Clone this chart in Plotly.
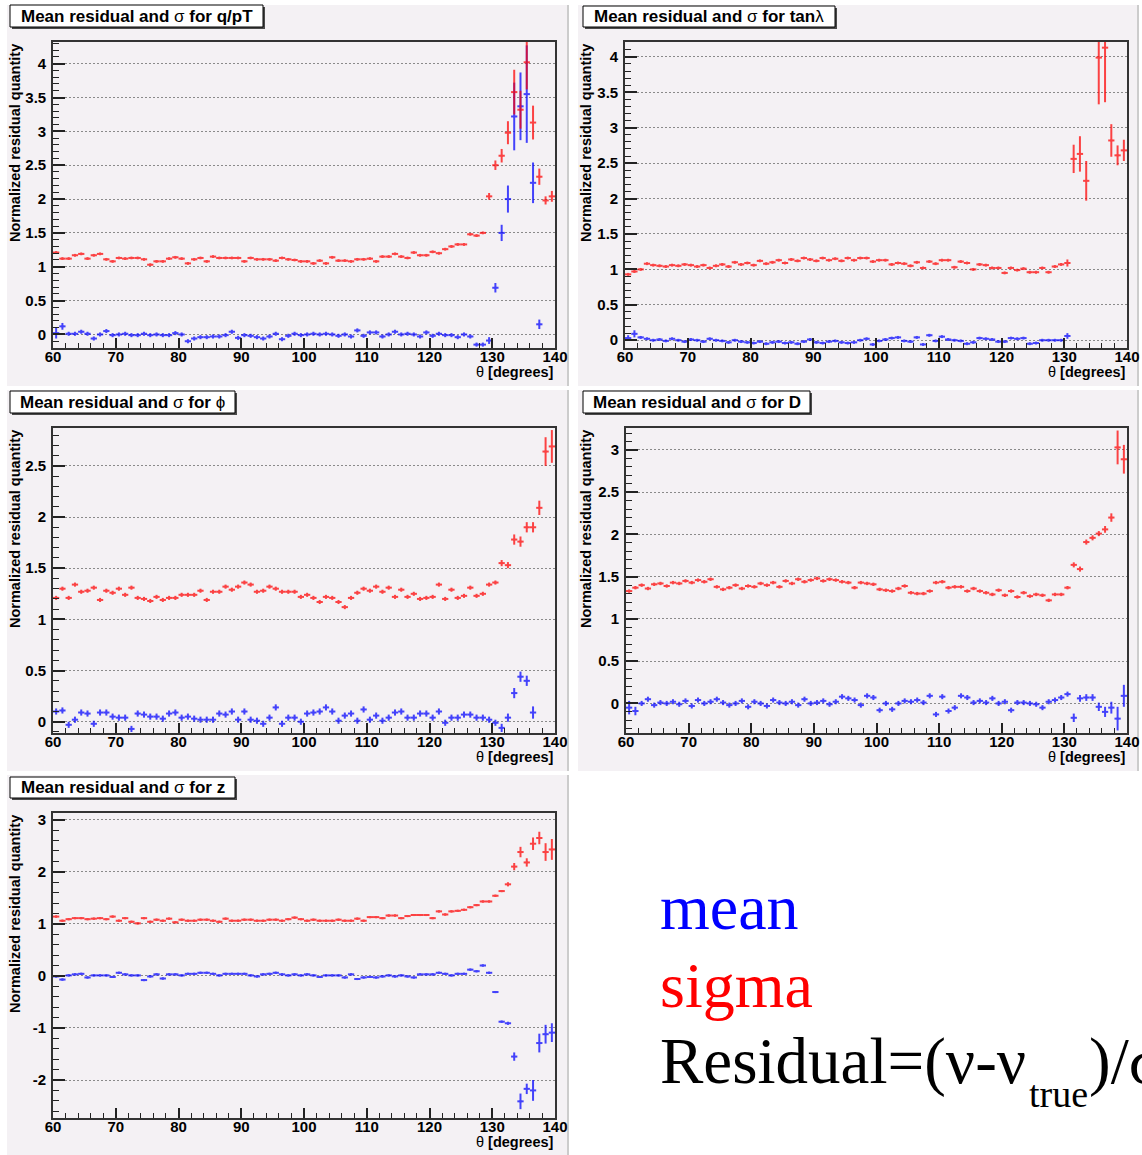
import plotly.graph_objects as go

# ---------------------------------------------------------------- data
THETA = [60.5 + i for i in range(80)]          # 1-degree bin centres
THETA_TICKS = [60, 70, 80, 90, 100, 110, 120, 130, 140]

QPT_SIGMA = [1.21, 1.12, 1.12, 1.17, 1.19, 1.12, 1.17, 1.19, 1.11, 1.08,
             1.13, 1.12, 1.13, 1.13, 1.11, 1.03, 1.08, 1.08, 1.12, 1.14,
             1.12, 1.05, 1.11, 1.13, 1.08, 1.15, 1.13, 1.13, 1.13, 1.13,
             1.08, 1.13, 1.11, 1.11, 1.11, 1.09, 1.13, 1.11, 1.10, 1.08,
             1.08, 1.05, 1.09, 1.05, 1.14, 1.09, 1.09, 1.08, 1.11, 1.11,
             1.12, 1.08, 1.15, 1.15, 1.19, 1.15, 1.13, 1.21, 1.17, 1.17,
             1.22, 1.20, 1.26, 1.30, 1.33, 1.33, 1.48, 1.46, 1.50, 2.04,
             2.50, 2.64, 2.98, 3.58, 3.32, 4.02, 3.13, 2.33, 1.98, 2.04]
QPT_SIGMA_ERR = [0.02] * 69 + [0.05, 0.07, 0.10, 0.17, 0.33, 0.28, 0.40, 0.25, 0.12, 0.06, 0.08]
QPT_MEAN = [0.02, 0.12, 0.01, 0.01, 0.04, 0.01, -0.06, 0.00, 0.05, -0.01,
            0.00, 0.01, -0.01, -0.01, 0.01, -0.01, 0.00, -0.01, -0.01, 0.02,
            0.00, -0.10, -0.06, -0.04, -0.04, -0.03, -0.03, -0.01, 0.04, -0.05,
            -0.01, -0.02, -0.04, -0.06, -0.03, 0.01, -0.07, -0.02, 0.01, -0.01,
            0.00, 0.01, 0.00, 0.01, 0.00, -0.02, 0.00, -0.03, 0.06, -0.02,
            0.03, 0.03, -0.03, 0.00, 0.04, 0.00, 0.01, 0.00, -0.03, 0.03,
            -0.02, 0.01, -0.01, -0.01, -0.04, 0.00, -0.03, -0.15, -0.15, -0.09,
            0.69, 1.50, 2.00, 3.22, 3.37, 3.55, 2.24, 0.15, None, None]
QPT_MEAN_ERR = [0.08, 0.05] + [0.03] * 67 + [0.05, 0.07, 0.12, 0.20, 0.50, 0.50, 0.72, 0.30, 0.07, 0, 0]

TANL_SIGMA = [0.93, 0.97, 1.00, 1.08, 1.06, 1.05, 1.04, 1.06, 1.05, 1.07,
              1.06, 1.04, 1.06, 1.02, 1.05, 1.07, 1.04, 1.10, 1.07, 1.09,
              1.06, 1.12, 1.08, 1.10, 1.13, 1.09, 1.14, 1.12, 1.16, 1.14,
              1.12, 1.16, 1.13, 1.15, 1.12, 1.16, 1.13, 1.16, 1.16, 1.11,
              1.13, 1.13, 1.07, 1.09, 1.08, 1.05, 1.10, 1.02, 1.11, 1.08,
              1.13, 1.13, 1.03, 1.11, 1.09, 1.00, 1.07, 1.06, 1.02, 1.02,
              0.95, 1.02, 0.99, 1.01, 0.96, 0.96, 1.02, 0.96, 1.04, 1.07,
              1.09, 2.56, 2.63, 2.25, None, 3.99, 4.13, 2.82, 2.61, 2.68]
TANL_SIGMA_ERR = [0.02] * 70 + [0.05, 0.20, 0.25, 0.28, 0, 0.66, 0.77, 0.23, 0.14, 0.15]
TANL_MEAN = [0.03, 0.09, 0.04, 0.02, 0.00, 0.01, -0.01, 0.02, 0.00, -0.02,
             0.01, 0.00, -0.02, 0.02, 0.00, -0.01, -0.03, 0.00, -0.02, -0.03,
             -0.04, -0.02, -0.05, -0.03, -0.02, -0.04, -0.03, -0.05, -0.02, 0.01,
             -0.03, -0.04, -0.02, -0.01, -0.03, -0.04, -0.03, 0.00, 0.02, -0.06,
             -0.01, 0.01, 0.03, 0.04, -0.01, -0.02, 0.04, -0.06, 0.07, -0.01,
             0.05, 0.01, 0.00, -0.01, -0.05, -0.03, 0.03, 0.02, 0.01, -0.02,
             -0.02, 0.03, 0.02, 0.03, -0.05, -0.04, 0.00, 0.00, 0.00, 0.00,
             0.06, None, None, None, None, None, None, None, None, None]
TANL_MEAN_ERR = [0.04, 0.05] + [0.02] * 68 + [0.04] + [0] * 9

PHI_SIGMA = [1.21, 1.30, 1.21, 1.34, 1.27, 1.28, 1.31, 1.19, 1.28, 1.26,
             1.30, 1.24, 1.31, 1.21, 1.20, 1.18, 1.22, 1.19, 1.21, 1.21,
             1.24, 1.24, 1.24, 1.28, 1.19, 1.27, 1.27, 1.32, 1.29, 1.32,
             1.36, 1.34, 1.27, 1.28, 1.32, 1.30, 1.27, 1.27, 1.27, 1.22,
             1.24, 1.21, 1.17, 1.22, 1.21, 1.17, 1.12, 1.21, 1.26, 1.30,
             1.28, 1.32, 1.27, 1.31, 1.22, 1.29, 1.22, 1.25, 1.20, 1.21,
             1.22, 1.34, 1.20, 1.29, 1.21, 1.23, 1.31, 1.23, 1.25, 1.34,
             1.36, 1.55, 1.53, 1.78, 1.76, 1.90, 1.90, 2.09, 2.64, 2.69]
PHI_SIGMA_ERR = [0.02] * 71 + [0.03, 0.03, 0.05, 0.05, 0.05, 0.05, 0.07, 0.14, 0.16]
PHI_MEAN = [0.10, 0.11, -0.03, 0.02, 0.09, 0.08, -0.02, 0.09, 0.09, 0.05,
            0.04, 0.04, -0.07, 0.08, 0.07, 0.05, 0.05, 0.03, 0.08, 0.09,
            0.04, 0.05, 0.03, 0.02, 0.02, 0.02, 0.08, 0.07, 0.10, 0.02,
            0.10, 0.02, 0.01, -0.02, 0.04, 0.14, -0.02, 0.04, 0.04, 0.00,
            0.08, 0.09, 0.10, 0.14, 0.10, 0.01, 0.06, 0.08, 0.01, 0.12,
            0.02, 0.06, 0.01, 0.04, 0.09, 0.10, 0.04, 0.04, 0.08, 0.08,
            0.04, 0.10, -0.01, 0.04, 0.04, 0.07, 0.07, 0.04, 0.04, 0.02,
            -0.01, -0.06, 0.04, 0.28, 0.44, 0.40, 0.09, None, None, None]
PHI_MEAN_ERR = [0.03] * 71 + [0.04, 0.04, 0.05, 0.05, 0.05, 0.06, 0, 0, 0]

D_SIGMA = [1.33, 1.37, 1.40, 1.36, 1.41, 1.42, 1.39, 1.43, 1.42, 1.45,
           1.43, 1.46, 1.44, 1.47, 1.38, 1.35, 1.37, 1.40, 1.36, 1.39,
           1.38, 1.42, 1.40, 1.43, 1.38, 1.45, 1.42, 1.47, 1.44, 1.46,
           1.48, 1.45, 1.47, 1.46, 1.44, 1.43, 1.37, 1.43, 1.42, 1.41,
           1.35, 1.34, 1.33, 1.36, 1.39, 1.31, 1.30, 1.30, 1.33, 1.43,
           1.44, 1.37, 1.38, 1.38, 1.33, 1.36, 1.33, 1.31, 1.29, 1.34,
           1.28, 1.33, 1.26, 1.31, 1.27, 1.29, 1.28, 1.22, 1.29, 1.29,
           1.37, 1.64, 1.59, 1.91, 1.96, 2.01, 2.06, 2.20, 3.03, 2.89]
D_SIGMA_ERR = [0.02] * 71 + [0.03, 0.03, 0.03, 0.03, 0.03, 0.04, 0.05, 0.20, 0.17]
D_MEAN = [-0.05, -0.09, 0.00, 0.05, -0.02, 0.01, 0.00, 0.02, -0.01, 0.03,
          -0.03, 0.04, 0.00, 0.02, 0.05, 0.01, -0.02, 0.00, 0.03, -0.04,
          0.02, 0.00, -0.03, 0.04, 0.01, 0.00, 0.02, -0.02, 0.05, 0.00,
          0.01, 0.03, -0.01, 0.02, 0.08, 0.06, 0.04, -0.02, 0.09, 0.07,
          -0.08, 0.00, -0.07, 0.00, 0.03, 0.02, 0.04, 0.01, 0.09, -0.13,
          0.08, -0.09, -0.05, 0.09, 0.07, 0.01, 0.03, 0.01, 0.06, 0.00,
          0.02, -0.08, 0.01, 0.01, 0.00, -0.01, -0.05, 0.02, 0.04, 0.07,
          0.11, -0.17, 0.06, 0.07, 0.07, -0.04, -0.10, -0.05, -0.18, 0.09]
D_MEAN_ERR = [0.08, 0.05] + [0.03] * 69 + [0.05, 0.04, 0.04, 0.04, 0.05, 0.06, 0.07, 0.14, 0.13]

Z_SIGMA = [1.14, 1.06, 1.09, 1.11, 1.11, 1.09, 1.10, 1.11, 1.09, 1.14,
           1.06, 1.11, 1.04, 1.01, 1.11, 1.04, 1.08, 1.06, 1.10, 1.03,
           1.08, 1.06, 1.06, 1.08, 1.08, 1.06, 1.04, 1.10, 1.06, 1.06,
           1.08, 1.08, 1.06, 1.06, 1.08, 1.08, 1.06, 1.09, 1.12, 1.09,
           1.06, 1.08, 1.06, 1.06, 1.06, 1.08, 1.06, 1.06, 1.10, 1.06,
           1.13, 1.13, 1.11, 1.16, 1.16, 1.11, 1.15, 1.17, 1.17, 1.17,
           1.11, 1.24, 1.18, 1.24, 1.25, 1.27, 1.32, 1.36, 1.43, 1.43,
           1.54, 1.63, 1.76, 2.10, 2.38, 2.18, 2.54, 2.65, 2.38, 2.43]
Z_SIGMA_ERR = [0.02] * 72 + [0.04, 0.07, 0.10, 0.08, 0.12, 0.12, 0.17, 0.20]
Z_MEAN = [-0.01, -0.07, 0.01, 0.03, 0.04, -0.03, 0.01, 0.01, 0.01, -0.02,
          0.06, 0.03, 0.01, 0.01, -0.08, -0.01, 0.03, -0.05, 0.03, 0.03,
          0.01, 0.04, 0.04, 0.06, 0.06, 0.04, 0.01, 0.04, 0.04, 0.04,
          0.04, 0.01, -0.01, 0.03, 0.04, 0.06, 0.03, 0.01, 0.03, 0.01,
          0.03, 0.01, -0.02, 0.01, 0.01, 0.01, -0.03, 0.03, -0.06, -0.03,
          -0.02, -0.03, -0.01, 0.01, -0.01, 0.01, -0.01, -0.03, 0.03, 0.03,
          0.03, 0.06, 0.04, 0.01, 0.04, 0.04, 0.12, 0.09, 0.20, 0.06,
          -0.31, -0.88, -0.91, -1.55, -2.41, -2.17, -2.20, -1.29, -1.12, -1.09]
Z_MEAN_ERR = [0.02] * 72 + [0.03, 0.08, 0.15, 0.10, 0.20, 0.18, 0.18, 0.18]

TITLES = ["<b>Mean residual and </b>σ<b> for q/pT</b>",
          "<b>Mean residual and </b>σ<b> for tan</b>λ",
          "<b>Mean residual and </b>σ<b> for </b>ϕ",
          "<b>Mean residual and </b>σ<b> for D</b>",
          "<b>Mean residual and </b>σ<b> for z</b>"]
Y_TICKS = [[0, 0.5, 1, 1.5, 2, 2.5, 3, 3.5, 4],
           [0, 0.5, 1, 1.5, 2, 2.5, 3, 3.5, 4],
           [0, 0.5, 1, 1.5, 2, 2.5],
           [0, 0.5, 1, 1.5, 2, 2.5, 3],
           [-2, -1, 0, 1, 2, 3]]
Y_TICK_TEXT = [["0", "0.5", "1", "1.5", "2", "2.5", "3", "3.5", "4"],
               ["0", "0.5", "1", "1.5", "2", "2.5", "3", "3.5", "4"],
               ["0", "0.5", "1", "1.5", "2", "2.5"],
               ["0", "0.5", "1", "1.5", "2", "2.5", "3"],
               ["-2", "-1", "0", "1", "2", "3"]]
Y_RANGES = [[-0.2, 4.32], [-0.11, 4.21], [-0.11, 2.87], [-0.35, 3.26], [-2.73, 3.13]]
Y_MINOR = [0.1, 0.1, 0.1, 0.1, 0.2]

SERIES = [(QPT_MEAN, QPT_MEAN_ERR, QPT_SIGMA, QPT_SIGMA_ERR),
          (TANL_MEAN, TANL_MEAN_ERR, TANL_SIGMA, TANL_SIGMA_ERR),
          (PHI_MEAN, PHI_MEAN_ERR, PHI_SIGMA, PHI_SIGMA_ERR),
          (D_MEAN, D_MEAN_ERR, D_SIGMA, D_SIGMA_ERR),
          (Z_MEAN, Z_MEAN_ERR, Z_SIGMA, Z_SIGMA_ERR)]

# ---------------------------------------------------------------- geometry (pixels)
W, H = 1142, 1155
PADS = [(7, 5, 568, 386), (578, 5, 1138, 386), (7, 390, 568, 771),
        (578, 390, 1138, 771), (7, 775, 568, 1155)]
FRAMES = [(53, 42, 555, 348), (625, 42, 1127, 348), (53, 428, 555, 733),
          (626, 428, 1127, 733), (53, 813, 555, 1118)]
TBOXES = [(10, 5, 263, 27), (583, 6, 835, 27), (10, 391, 235, 413),
          (583, 391, 810, 413), (10, 777, 235, 798)]

PAD_BG = "#f4f1f4"
RED = "rgb(255,0,0)"
BLUE = "rgb(0,0,255)"
SANS = "Liberation Sans"
SERIF = "Liberation Serif"


def fx(x):
    return x / W


def fy(y):
    return 1 - y / H


fig = go.Figure()
shapes = []
annotations = []
layout = {}

for i in range(5):
    n = "" if i == 0 else str(i + 1)
    xa, ya = "x" + n, "y" + n
    mean, mean_err, sig, sig_err = SERIES[i]

    for vals, errs, col in ((mean, mean_err, BLUE), (sig, sig_err, RED)):
        fig.add_trace(go.Scatter(
            x=THETA, y=vals, mode="markers", xaxis=xa, yaxis=ya,
            opacity=0.72, showlegend=False,
            marker=dict(size=2, color=col, symbol="square"),
            error_x=dict(type="constant", value=0.5, width=0, thickness=2, color=col),
            error_y=dict(type="data", array=errs, width=0, thickness=2, color=col),
        ))

    x0, y0, x1, y1 = FRAMES[i]
    layout["xaxis" + n] = dict(
        domain=[fx(x0), fx(x1)], anchor=ya, range=[60, 140], automargin=False,
        tickmode="array", tickvals=THETA_TICKS, ticktext=[str(t) for t in THETA_TICKS],
        ticks="inside", ticklen=10, tickwidth=1.5, tickcolor="#222",
        ticklabelstandoff=-6,
        minor=dict(tickmode="linear", tick0=60, dtick=2, ticks="inside", ticklen=5,
                   tickwidth=1.2, tickcolor="#222", showgrid=False),
        showgrid=False, zeroline=False, showline=True, mirror=True,
        linecolor="#333", linewidth=1.6,
        tickfont=dict(family=SANS, size=15, color="black", weight="bold"),
    )
    layout["yaxis" + n] = dict(
        domain=[fy(y1), fy(y0)], anchor=xa, range=Y_RANGES[i], automargin=False,
        tickmode="array", tickvals=Y_TICKS[i], ticktext=Y_TICK_TEXT[i],
        ticks="inside", ticklen=12, tickwidth=1.5, tickcolor="#222",
        ticklabelstandoff=2,
        minor=dict(tickmode="linear", tick0=0, dtick=Y_MINOR[i], ticks="inside",
                   ticklen=6, tickwidth=1.2, tickcolor="#222", showgrid=False),
        showgrid=True, gridcolor="#8a8a8a", gridwidth=1, griddash="2px,2px",
        zeroline=False, showline=True, mirror=True, linecolor="#333", linewidth=1.6,
        tickfont=dict(family=SANS, size=15, color="black", weight="bold"),
    )

    # pad background with a soft border on the right
    px0, py0, px1, py1 = PADS[i]
    shapes.append(dict(type="rect", xref="paper", yref="paper", layer="below",
                       x0=fx(px0), x1=fx(px1), y0=fy(py1), y1=fy(py0),
                       fillcolor=PAD_BG, line=dict(width=0)))
    shapes.append(dict(type="line", xref="paper", yref="paper", layer="below",
                       x0=fx(px1), x1=fx(px1), y0=fy(py1), y1=fy(py0),
                       line=dict(color="#cccccc", width=2)))

    # title box with drop shadow
    tx0, ty0, tx1, ty1 = TBOXES[i]
    shapes.append(dict(type="rect", xref="paper", yref="paper", layer="above",
                       x0=fx(tx0 + 2), x1=fx(tx1 + 2), y0=fy(ty1 + 2), y1=fy(ty0 + 2),
                       fillcolor="#4a4a4a", line=dict(width=0)))
    shapes.append(dict(type="rect", xref="paper", yref="paper", layer="above",
                       x0=fx(tx0), x1=fx(tx1), y0=fy(ty1), y1=fy(ty0),
                       fillcolor="white", line=dict(color="black", width=1)))
    annotations.append(dict(text=TITLES[i], xref="paper", yref="paper",
                            x=fx((tx0 + tx1) / 2), y=fy((ty0 + ty1) / 2),
                            xanchor="center", yanchor="middle", showarrow=False,
                            font=dict(family=SANS, size=17, color="black")))

    # axis titles
    annotations.append(dict(text="<b>Normalized residual quantity</b>", textangle=-90,
                            xref="paper", yref="paper", x=fx(px0 + 8), y=fy(y0),
                            xanchor="center", yanchor="top", showarrow=False,
                            font=dict(family=SANS, size=14.5, color="black")))
    annotations.append(dict(text="θ <b>[degrees]</b>", xref="paper", yref="paper",
                            x=fx(x1 + 1), y=fy(y1 + 24), xanchor="right", yanchor="middle",
                            showarrow=False, font=dict(family=SANS, size=14.5, color="black")))

# key text in the free cell
annotations.append(dict(text="mean", xref="paper", yref="paper", x=fx(658), y=fy(907),
                        xanchor="left", yanchor="middle", showarrow=False,
                        font=dict(family=SERIF, size=64, color=BLUE)))
annotations.append(dict(text="sigma", xref="paper", yref="paper", x=fx(658), y=fy(985),
                        xanchor="left", yanchor="middle", showarrow=False,
                        font=dict(family=SERIF, size=64, color=RED)))
# residual definition, with a lowered "true" subscript
annotations.append(dict(text="Residual=(ν-ν", xref="paper", yref="paper",
                        x=fx(658), y=fy(1061), xanchor="left", yanchor="middle",
                        showarrow=False, font=dict(family=SERIF, size=65, color="black")))
annotations.append(dict(text="true", xref="paper", yref="paper",
                        x=fx(1027), y=fy(1094), xanchor="left", yanchor="middle",
                        showarrow=False, font=dict(family=SERIF, size=38, color="black")))
annotations.append(dict(text=")/σ", xref="paper", yref="paper",
                        x=fx(1087), y=fy(1061), xanchor="left", yanchor="middle",
                        showarrow=False, font=dict(family=SERIF, size=65, color="black")))

fig.update_layout(
    width=W, height=H, autosize=False,
    margin=dict(l=0, r=0, t=0, b=0, pad=0),
    paper_bgcolor="white", plot_bgcolor=PAD_BG,
    shapes=shapes, annotations=annotations, showlegend=False,
    **layout,
)

fig.write_html("out.html")
